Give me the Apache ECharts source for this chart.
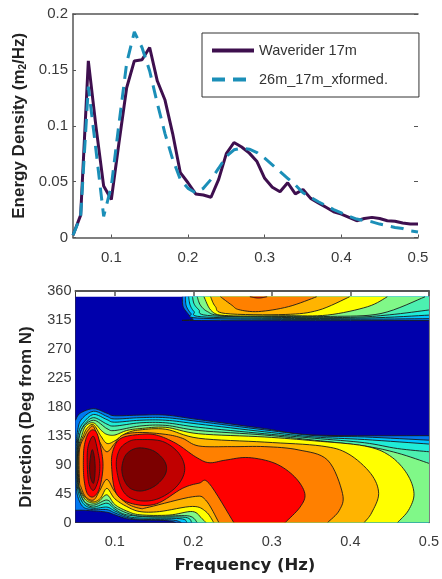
<!DOCTYPE html>
<html><head><meta charset="utf-8">
<script src="https://cdn.jsdelivr.net/npm/echarts@6/dist/echarts.min.js"></script>
<style>html,body{margin:0;padding:0;background:#fff}#c{width:442px;height:579px;filter:blur(0.5px)}</style>
</head><body><div id="c"></div>
<script>
var frequencies=[.05,.06,.07,.08,.09,.10,.11,.12,.13,.14,.15,.16,.17,.18,.19,.20,.21,.22,.23,.24,.25,.26,.27,.28,.29,.30,.31,.32,.33,.34,.35,.36,.37,.38,.39,.40,.41,.42,.43,.44,.45,.46,.47,.48,.49,.50];
var waverider=[.002,.02,.158,.099,.046,.034,.085,.134,.158,.159,.170,.14,.123,.093,.058,.049,.039,.038,.036,.052,.075,.085,.081,.0755,.068,.053,.045,.041,.049,.039,.043,.035,.031,.027,.023,.021,.018,.015,.017,.018,.017,.015,.0145,.013,.012,.012];
var transformed=[.002,.019,.135,.078,.019,.046,.102,.156,.184,.17,.149,.12,.093,.07,.052,.044,.04,.044,.052,.062,.0725,.0785,.08,.079,.076,.071,.065,.059,.053,.047,.04,.036,.032,.0285,.025,.022,.019,.0165,.015,.014,.012,.0105,.009,.008,.006,.005];
var freqTicks=[.1,.2,.3,.4,.5];
var FMIN=.05,FMAX=.5,DMAX=351;

// contour outlines: [frequency, direction]
var base=[[.05,0],[.05,351],[.5,351],[.5,0]];
var L1=[[.05,19],[.05,159],[.056,170],[.073,177],[.09,170],[.1,166],[.132,167],[.165,167],[.207,160],[.291,146],[.354,136],[.5,135],[.5,0],[.178,0],[.165,3],[.132,4],[.115,6],[.1,12],[.09,16],[.073,18],[.06,19]];
var L2=[[.051,61],[.051,118],[.053,145],[.058,161],[.073,173],[.09,165],[.1,161],[.132,163],[.165,163],[.207,157],[.291,144],[.355,135],[.418,133],[.5,128],[.5,0],[.185,0],[.172,4],[.132,5],[.115,8],[.1,15],[.09,20],[.073,20],[.06,24],[.053,40]];
var L3=[[.052,66],[.052,113],[.054,140],[.06,155],[.073,168],[.09,160],[.1,156],[.132,159],[.165,159],[.207,153],[.291,141],[.354,133],[.418,129],[.5,122],[.5,0],[.192,0],[.183,6],[.132,7],[.115,10],[.1,18],[.09,24],[.073,22],[.061,28],[.054,45]];
var L4=[[.0525,66],[.0525,113],[.055,135],[.061,152],[.073,163],[.09,153],[.1,150],[.132,155],[.165,155],[.207,148],[.291,138],[.354,131],[.418,124],[.46,115],[.5,110],[.5,0],[.198,0],[.19,8],[.15,8.5],[.115,12],[.1,21],[.09,30],[.073,24],[.062,31],[.055,48]];
var L5=[[.053,66],[.053,113],[.058,145],[.073,159],[.09,146],[.1,143],[.132,150],[.165,151],[.207,143],[.291,136],[.354,128],[.418,119],[.46,108],[.5,92],[.5,0],[.205,0],[.195,10],[.165,10],[.132,10],[.115,15],[.1,24],[.09,35],[.073,27],[.06,35]];
var L6=[[.0535,66],[.0535,113],[.058,135],[.063,150],[.073,155],[.083,143],[.09,137],[.1,136],[.115,143],[.132,146],[.165,148],[.207,138],[.291,133],[.354,127],[.418,119],[.45,104],[.472,76],[.481,45],[.474,19],[.46,0],[.216,0],[.211,6],[.199,17],[.169,11.5],[.132,12],[.115,18],[.1,28],[.09,43],[.08,33],[.073,30],[.063,35],[.056,50]];
var L7=[[.054,66],[.054,113],[.06,135],[.065,147],[.073,152],[.082,135],[.09,123],[.1,127],[.115,139],[.132,144],[.165,145],[.207,131],[.291,125],[.363,119],[.397,107],[.426,76],[.436,45],[.427,15],[.4176,0],[.226,0],[.216,17],[.199,25],[.157,17],[.132,17],[.115,25],[.1,37],[.09,53],[.082,38],[.073,32],[.063,38],[.056,52]];
var L8=[[.055,66],[.055,113],[.062,135],[.067,145],[.073,149],[.081,125],[.09,110],[.1,123],[.11,136],[.132,140],[.165,137],[.186,131],[.207,119],[.249,118],[.291,118],[.3335,113],[.371,97],[.39,45],[.386,19],[.371,0],[.2325,0],[.2157,35],[.199,40],[.144,24],[.132,22],[.115,30],[.1,48],[.09,67],[.081,50],[.073,35],[.063,40],[.057,55]];
var L9a=[[.096,87],[.098,113],[.108,131],[.132,137],[.153,136],[.178,123],[.203,102],[.22,93],[.241,97],[.27,101],[.304,92],[.329,71],[.342,45],[.336,24],[.317,0],[.2515,0],[.22,61],[.207,61],[.186,53],[.153,29],[.123,29],[.102,45]];
var L9b=[[.06,90],[.061,118],[.066,138],[.073,144],[.079,133],[.085,92],[.081,55],[.073,40],[.065,45],[.061,66]];
var L10a=[[.102,87],[.106,113],[.118,126],[.132,129],[.161,126],[.182,107],[.189,81],[.178,55],[.153,36],[.127,35],[.11,50]];
var L10b=[[.065,90],[.066,118],[.073,134],[.079,107],[.081,87],[.079,66],[.073,50],[.067,61]];
var L11a=[[.109,84],[.113,103],[.122,113],[.134,116],[.15,111],[.162,98],[.166,84],[.162,70],[.15,56],[.134,49],[.12,53],[.112,66]];
var L11b=[[.068,90],[.071,113],[.074,102],[.075,81],[.073,61],[.069,71]];
var T1=[[.186,351],[.187,336],[.193,325],[.2,316],[.21,314],[.5,314],[.5,351]];
var T2=[[.19,351],[.191,337],[.197,325],[.205,318],[.3,316],[.4,316],[.5,317],[.5,351]];
var T3=[[.194,351],[.196,338],[.201,328],[.21,320],[.3,317.5],[.42,318],[.5,322.5],[.5,351]];
var T4=[[.199,351],[.201,340],[.207,331],[.218,322],[.3,319],[.4,319],[.45,323],[.5,330.5],[.5,351]];
var T5=[[.205,351],[.209,338],[.218,328],[.235,322],[.3,320.5],[.375,320.5],[.439,325],[.495,351]];
var T6=[[.2136,351],[.224,328],[.245,321.6],[.317,321.6],[.371,322.6],[.422,335.6],[.447,351]];
var T7=[[.222,351],[.228,336],[.241,325],[.317,323.5],[.359,330],[.399,351]];
var T8=[[.2346,351],[.249,338],[.258,331],[.283,328],[.321,335.6],[.357,351]];
var T9=[[.272,351],[.283,349],[.294,351]];

var bandBlue='#0000ac',band1='#0078f0',band2='#00c4ff',band3='#20ecd8',band4='#4cf0b0',band5='#80f888',
    band6='#ffff00',band7='#ffb400',band8='#ff8000',band9='#ff0000',band10='#c00000',band11='#7c0000';
var polys=[[base,bandBlue,0],
 [L1,band1],[T1,band1],[L2,band2],[T2,band2],[L3,band3],[T3,band3],[L4,band4],[T4,band4],[L5,band5],[T5,band5],
 [L6,band6],[T6,band6],[L7,band7],[T7,band7],[L8,band8],[T8,band8],[T9,band9],
 [L9a,band9],[L9b,band9],[L10a,band10],[L10b,band10],[L11a,band11],[L11b,band11]];

function onEdge(p){return p[0]<=FMIN||p[0]>=FMAX||p[1]<=0||p[1]>=DMAX;}
function sameEdge(a,b){return (a[0]<=FMIN&&b[0]<=FMIN)||(a[0]>=FMAX&&b[0]>=FMAX)||(a[1]<=0&&b[1]<=0)||(a[1]>=DMAX&&b[1]>=DMAX);}
function renderContour(params,api){
  var d=polys[params.dataIndex],src=d[0],n=src.length,stroke=d[2]!==0;
  var px=src.map(function(p){return api.coord(p);});
  var fill=[],runs=[],run=null;
  for(var i=0;i<n;i++){
    var j=(i+1)%n,a=src[i],b=src[j];
    if(sameEdge(a,b)){fill.push(px[i]);if(run){runs.push(run);run=null;}continue;}
    var p1=px[i],p2=px[j];
    var p0=onEdge(a)?p1:px[(i-1+n)%n],p3=onEdge(b)?p2:px[(j+1)%n];
    if(!run)run=[p1];
    for(var k=0;k<8;k++){
      var t=k/8,t2=t*t,t3=t2*t;
      var x=.5*(2*p1[0]+(p2[0]-p0[0])*t+(2*p0[0]-5*p1[0]+4*p2[0]-p3[0])*t2+(3*p1[0]-p0[0]-3*p2[0]+p3[0])*t3);
      var y=.5*(2*p1[1]+(p2[1]-p0[1])*t+(2*p0[1]-5*p1[1]+4*p2[1]-p3[1])*t2+(3*p1[1]-p0[1]-3*p2[1]+p3[1])*t3);
      fill.push([x,y]);if(k>0)run.push([x,y]);
    }
    run.push(p2);
  }
  if(run)runs.push(run);
  var kids=[{type:'polygon',shape:{points:fill},style:{fill:d[1],stroke:null},silent:true}];
  if(stroke)runs.forEach(function(r){kids.push({type:'polyline',shape:{points:r},style:{fill:null,stroke:'#1a1a1a',lineWidth:.9},silent:true});});
  return {type:'group',children:kids};
}
function pairs(vals){return frequencies.map(function(f,i){return [f,vals[i]];});}
var axisGray='#555';
var labelTop={color:'#3a3a3a',fontSize:15,fontFamily:'Liberation Sans'};
var labelBot={color:'#3a3a3a',fontSize:14.5,fontFamily:'Liberation Sans'};
function noZero(c){var o={onZero:false};for(var k in c)o[k]=c[k];return o;}
var chart=echarts.init(document.getElementById('c'),null,{renderer:'canvas'});
chart.setOption({
 animation:false,backgroundColor:'#fff',
 grid:[{left:73,top:14,width:345,height:223.5},{left:75.5,top:291,width:356,height:231.5}],
 xAxis:[
  {gridIndex:0,type:'value',min:FMIN,max:FMAX,splitLine:{show:false},
   axisLine:noZero({lineStyle:{color:axisGray,width:1.5}}),axisTick:{customValues:freqTicks,inside:true,length:3,lineStyle:{color:axisGray}},
   axisLabel:Object.assign({customValues:freqTicks,margin:13,formatter:function(v){return String(v);}},labelTop)},
  {gridIndex:0,type:'value',position:'top',min:FMIN,max:FMAX,splitLine:{show:false},axisLine:noZero({lineStyle:{color:axisGray,width:1.5}}),axisTick:{show:false},axisLabel:{show:false}},
  {gridIndex:1,type:'value',min:FMIN,max:FMAX,splitLine:{show:false},
   axisLine:noZero({lineStyle:{color:'#333',width:1}}),axisTick:{show:false},
   axisLabel:Object.assign({customValues:freqTicks,margin:12,formatter:function(v){return String(v);}},labelBot)},
  {gridIndex:1,type:'value',position:'top',min:FMIN,max:FMAX,splitLine:{show:false},axisLine:noZero({lineStyle:{color:axisGray,width:2}}),
   axisTick:{customValues:freqTicks,inside:true,length:5,lineStyle:{color:axisGray,width:1.5}},axisLabel:{show:false}}
 ],
 yAxis:[
  {gridIndex:0,type:'value',min:0,max:.2,interval:.05,splitLine:{show:false},
   axisLine:noZero({show:true,lineStyle:{color:axisGray,width:1.5}}),axisTick:{inside:true,length:3,lineStyle:{color:axisGray}},
   axisLabel:Object.assign({margin:5},labelTop),
   name:'Energy Density (m{s|2}/Hz)',nameLocation:'middle',nameGap:45,
   nameTextStyle:{color:'#222',fontSize:17,fontWeight:'bold',fontFamily:'Liberation Sans',rich:{s:{fontSize:10,fontWeight:'bold',verticalAlign:'bottom',padding:[7,0,0,0],fontFamily:'Liberation Sans',color:'#222'}}}},
  {gridIndex:0,type:'value',position:'right',min:0,max:.2,interval:.05,splitLine:{show:false},
   axisLine:noZero({show:false}),axisTick:{inside:true,length:4,lineStyle:{color:axisGray}},axisLabel:{show:false}},
  {gridIndex:1,type:'value',min:0,max:360,interval:45,splitLine:{show:false},
   axisLine:noZero({show:true,lineStyle:{color:'#333',width:1}}),axisTick:{show:false},
   axisLabel:Object.assign({margin:4},labelBot)},
  {gridIndex:1,type:'value',position:'right',min:0,max:360,interval:45,splitLine:{show:false},
   axisLine:noZero({show:true,lineStyle:{color:axisGray,width:1.5}}),axisTick:{show:false},axisLabel:{show:false}}
 ],
 legend:{data:['Waverider 17m','26m_17m_xformed.'],orient:'vertical',left:202,top:33,padding:[10,31,10,8],itemGap:14,itemWidth:42,itemHeight:14,
  backgroundColor:'#fff',borderColor:'#333',borderWidth:1,borderRadius:0,itemStyle:{opacity:0},lineStyle:{width:4},
  textStyle:{color:'#333',fontSize:14.5,fontFamily:'Liberation Sans'}},
 graphic:[
  {type:'text',x:26,y:417,rotation:Math.PI/2,style:{text:'Direction (Deg from N)',x:0,y:0,align:'center',verticalAlign:'middle',fontSize:17,fontWeight:'bold',fontFamily:'Liberation Sans',fill:'#222'}},
  {type:'text',x:245,y:566,style:{text:'Frequency (Hz)',x:0,y:0,align:'center',verticalAlign:'middle',fontSize:16.5,fontWeight:'bold',fontFamily:'DejaVu Sans',fill:'#222'}}
 ],
 series:[
  {name:'Waverider 17m',type:'line',xAxisIndex:0,yAxisIndex:0,data:pairs(waverider),symbol:'none',z:3,lineStyle:{color:'#3e0f4e',width:3}},
  {name:'26m_17m_xformed.',type:'line',xAxisIndex:0,yAxisIndex:0,data:pairs(transformed),symbol:'none',z:4,lineStyle:{color:'#1b8fb8',width:3,type:[13,8]}},
  {type:'custom',xAxisIndex:2,yAxisIndex:2,clip:true,renderItem:renderContour,silent:true,z:2,
   data:polys.map(function(p,i){return [p[0][0][0],p[0][0][1],i];}),encode:{x:0,y:1}}
 ]
});
</script></body></html>
